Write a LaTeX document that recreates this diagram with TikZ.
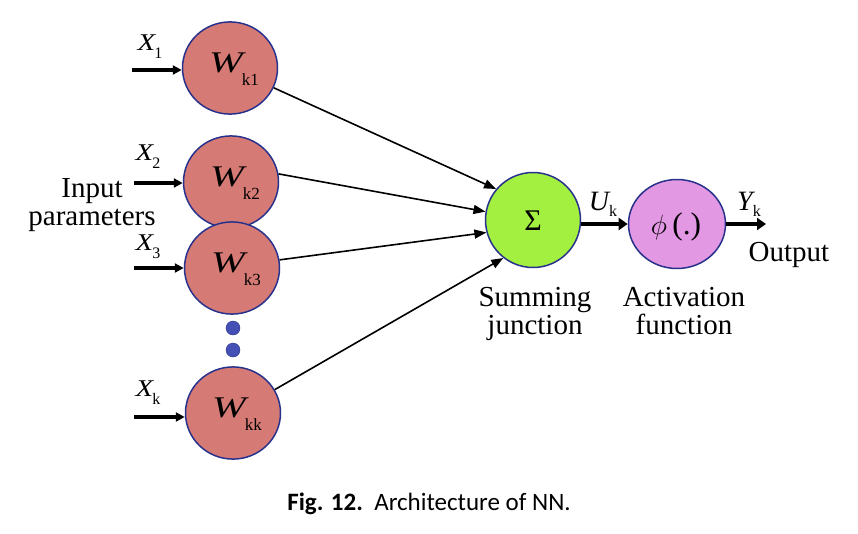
\documentclass[tikz,border=0pt]{standalone}
\usepackage{fontspec}
\setmainfont{Liberation Serif}
\newfontfamily\capfont{Carlito}
\usetikzlibrary{arrows.meta}
\definecolor{wfill}{RGB}{214,122,117}
\definecolor{cborder}{RGB}{40,50,140}
\definecolor{sfill}{RGB}{163,240,64}
\definecolor{afill}{RGB}{226,152,226}
\definecolor{dotc}{RGB}{68,80,180}
\tikzset{
  wc/.style={draw=cborder, line width=1.5pt, fill=wfill, circle, minimum size=95pt, inner sep=0pt, yscale=0.97},
  dotn/.style={fill=dotc, draw=cborder, circle, minimum size=14pt, inner sep=0pt},
  thin arrow/.style={line width=1.6pt,-{Triangle[length=12pt,width=9pt]}},
  in arrow/.style={line width=3.2pt,-{Triangle[length=9pt,width=9pt]}},
  thick arrow/.style={line width=4.5pt,-{Triangle[length=9pt,width=12pt]}},
  lbl/.style={font=\fontsize{29}{28}\selectfont, anchor=base, inner sep=0pt, align=center},
}
\newcommand{\Wlab}[1]{{\fontsize{30}{30}\selectfont\itshape\scalebox{1.35}[1]{W}}\kern-1pt\raisebox{-13pt}{\fontsize{17}{17}\selectfont #1}}
\newcommand{\Xlab}[1]{{\fontsize{24}{24}\selectfont\itshape\scalebox{1.2}[1]{X}}\kern-1pt\raisebox{-8pt}{\fontsize{16}{16}\selectfont #1}}
\newcommand{\Klab}[1]{{\fontsize{28}{28}\selectfont\itshape #1}\raisebox{-6pt}{\fontsize{16}{16}\selectfont k}}
\begin{document}
\begin{tikzpicture}[x=1pt,y=-1pt]
\useasboundingbox (0,0) rectangle (858,533);
\fill[white] (0,0) rectangle (858,533);
% weight nodes
\node[wc] (w1) at (230,68) {};
\node[wc] (w2) at (231,182) {};
\node[wc] (w3) at (232,268) {};
\node[wc] (wk) at (233,413) {};
% dots
\node[dotn] (d1) at (233,328) {};
\node[dotn] (d2) at (233,350) {};
% sum & activation
\node[draw=cborder,line width=1.5pt,fill=sfill,circle,minimum size=95pt,inner sep=0pt] (sum) at (533,220) {};
\node[draw=cborder,line width=1.5pt,fill=afill,circle,minimum size=89pt,inner sep=0pt,xscale=1.09] (act) at (677,224) {};
% labels inside
\node[lbl] (lw1) at (234,72) {\Wlab{k1}};
\node[lbl] (lw2) at (235,186) {\Wlab{k2}};
\node[lbl] (lw3) at (236,272) {\Wlab{k3}};
\node[lbl] (lwk) at (237,417) {\Wlab{kk}};
\node[lbl] (lsum) at (533,230) {\fontsize{30}{30}\selectfont Σ};
\node[lbl] (lact) at (676,234) {\scalebox{1.12}{\fontsize{28}{28}\selectfont$\phi$\,(.)}};
% input labels
\node[lbl] (x1) at (150,50) {\Xlab{1}};
\node[lbl] (x2) at (148,160) {\Xlab{2}};
\node[lbl] (x3) at (148,250) {\Xlab{3}};
\node[lbl] (xk) at (148,396) {\Xlab{k}};
\coordinate (s1) at (132,70);
\coordinate (s2) at (134,183);
\coordinate (s3) at (134,268);
\coordinate (sk) at (134,417);
\draw[in arrow] (s1) -- (w1.west |- s1);
\draw[in arrow] (s2) -- (w2.west |- s2);
\draw[in arrow] (s3) -- (w3.west |- s3);
\draw[in arrow] (sk) -- (wk.west |- sk);
% connectors to sum
\draw[thin arrow] (w1.-25) -- (sum.140);
\draw[thin arrow] (w2.10) -- (sum.170);
\draw[thin arrow] (w3.10) -- (sum.195);
\draw[thin arrow] (wk.30) -- (sum.232);
% thick arrows
\draw[thick arrow] (sum.east |- act.west) -- (act.west);
\coordinate (out) at (766,224);
\draw[thick arrow] (act.east) -- (out);
\node[lbl] (uk) at (603,210) {\Klab{U}};
\node[lbl] (yk) at (749,210) {\Klab{Y}};
\node[lbl] (outl) at (789,261) {Output};
\node[lbl] (inl) at (92,225) {Input\\parameters};
\node[lbl] (suml) at (535,334) {Summing\\junction};
\node[lbl] (actl) at (684,334) {Activation\\function};
\node[anchor=base,inner sep=0pt,font=\capfont\fontsize{25}{25}\selectfont] (cap) at (429,510) {\textbf{Fig. 12.}\ \ Architecture of NN.};
\end{tikzpicture}
\end{document}
